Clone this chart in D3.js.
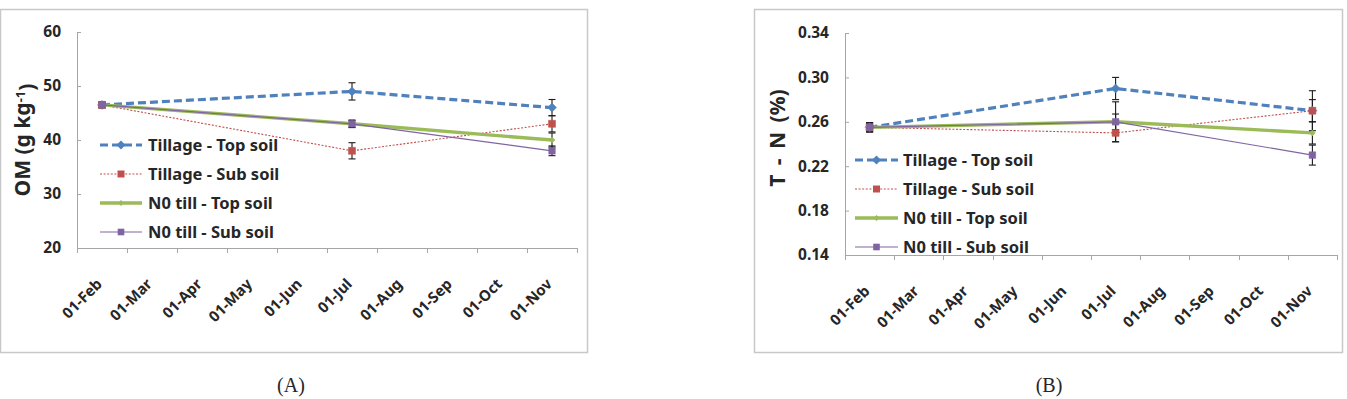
<!DOCTYPE html>
<html><head><meta charset="utf-8">
<script src="https://cdn.jsdelivr.net/npm/d3@7"></script>
<style>
html,body{margin:0;padding:0;background:#fff;}
svg{display:block;}
text{font-family:"Noto Sans",Arial,sans-serif;font-weight:bold;fill:#262626;}
</style></head>
<body>
<svg id="c" width="1347" height="399"></svg>
<script>
// ---------- data ----------
const months = ["01-Feb","01-Mar","01-Apr","01-May","01-Jun","01-Jul","01-Aug","01-Sep","01-Oct","01-Nov"];
const sampleMonths = ["01-Feb","01-Jul","01-Nov"];
const seriesNames = ["Tillage - Top soil","Tillage - Sub soil","N0 till - Top soil","N0 till - Sub soil"];

// Panel A: OM (g kg-1)
const omTillTop = [46.5, 49.0, 46.0];
const omTillTopErr = [0.5, 1.6, 1.5];
const omTillSub = [46.5, 38.0, 43.0];
const omTillSubErr = [0.5, 1.5, 1.5];
const omNoTop = [46.5, 43.0, 40.0];
const omNoTopErr = [0.5, 0.6, 1.3];
const omNoSub = [46.5, 43.0, 38.0];
const omNoSubErr = [0.5, 0.7, 0.9];
const omTicks = [20, 30, 40, 50, 60];

// Panel B: T-N (%)
const tnTillTop = [0.255, 0.290, 0.270];
const tnTillTopErr = [0.004, 0.010, 0.010];
const tnTillSub = [0.255, 0.250, 0.270];
const tnTillSubErr = [0.004, 0.008, 0.018];
const tnNoTop = [0.255, 0.260, 0.250];
const tnNoTopErr = [0.004, 0.018, 0.010];
const tnNoSub = [0.255, 0.260, 0.230];
const tnNoSubErr = [0.004, 0.007, 0.009];
const tnTicks = [0.14, 0.18, 0.22, 0.26, 0.30, 0.34];

// ---------- styles ----------
const styles = [
  {color:"#4F81BD", width:3.2, dash:"8,4", marker:"diamond", r:4.5},
  {color:"#C0504D", width:1.1, dash:"2,1.6", marker:"square", r:3.5},
  {color:"#9BBB59", width:3.4, dash:null, marker:"diamond", r:3},
  {color:"#8064A2", width:1.2, dash:null, marker:"square", r:3.3}
];

const panels = [
  {
    frame:{x:0.5,y:9.5,w:587,h:343},
    plot:{left:77,right:577,top:32,bottom:248},
    domain:[20,60], ticks:omTicks, fmt:d3.format("d"),
    series:[[omTillTop,omTillTopErr],[omTillSub,omTillSubErr],[omNoTop,omNoTopErr],[omNoSub,omNoSubErr]],
    legend:{x1:100,x2:142,tx:148,y0:145,dy:29},
    ytitle:{x:23,y:140}, caption:{x:291,y:385,t:"(A)"}, title:"OM"
  },
  {
    frame:{x:754.5,y:9.5,w:588,h:343},
    plot:{left:845,right:1337,top:33,bottom:255},
    domain:[0.14,0.34], ticks:tnTicks, fmt:d3.format(".2f"),
    series:[[tnTillTop,tnTillTopErr],[tnTillSub,tnTillSubErr],[tnNoTop,tnNoTopErr],[tnNoSub,tnNoSubErr]],
    legend:{x1:855,x2:898,tx:903,y0:160,dy:29},
    ytitle:{x:778,y:138}, caption:{x:1049,y:385,t:"(B)"}, title:"TN"
  }
];

const svg = d3.select("#c");
svg.append("rect").attr("width",1347).attr("height",399).attr("fill","#fff");

function markerPath(type, r){
  if(type==="diamond") return `M0,${-r}L${r},0L0,${r}L${-r},0Z`;
  return `M${-r},${-r}H${r}V${r}H${-r}Z`;
}

panels.forEach(p=>{
  const g = svg.append("g");
  g.append("rect").attr("x",p.frame.x).attr("y",p.frame.y).attr("width",p.frame.w).attr("height",p.frame.h)
    .attr("fill","none").attr("stroke","#c8c8c8").attr("stroke-width",1.5);

  const x = d3.scaleBand().domain(months).range([p.plot.left,p.plot.right]).paddingInner(0).paddingOuter(0);
  const y = d3.scaleLinear().domain(p.domain).range([p.plot.bottom,p.plot.top]);
  const cx = m => x(m) + x.bandwidth()/2;

  // y axis
  const ya = g.append("g").attr("transform",`translate(${p.plot.left},0)`)
    .call(d3.axisLeft(y).tickValues(p.ticks).tickFormat(p.fmt).tickSizeInner(-4).tickSizeOuter(0).tickPadding(16));
  ya.select(".domain").attr("stroke","#a6a6a6");
  ya.selectAll(".tick line").attr("stroke","#a6a6a6");
  ya.selectAll(".tick text").style("font-size","15.5px").style("font-family","'Noto Sans',Arial,sans-serif").style("font-weight","bold").attr("fill","#262626");

  // x axis (ticks at month boundaries, labels centered)
  const xa = g.append("g");
  xa.append("line").attr("x1",p.plot.left).attr("x2",p.plot.right).attr("y1",p.plot.bottom+0.5).attr("y2",p.plot.bottom+0.5).attr("stroke","#a6a6a6");
  const bounds = months.map(m=>x(m)).concat([x.range()[1]]);
  xa.selectAll("line.tk").data(bounds).join("line").attr("class","tk")
    .attr("x1",d=>Math.round(d)+0.5).attr("x2",d=>Math.round(d)+0.5)
    .attr("y1",p.plot.bottom).attr("y2",p.plot.bottom+5).attr("stroke","#a6a6a6");
  xa.selectAll("text").data(months).join("text")
    .attr("transform",m=>`translate(${cx(m)+1},${p.plot.bottom+37}) rotate(-45)`)
    .attr("text-anchor","end").style("font-size","15px").text(m=>m);

  // series lines
  p.series.forEach((s,i)=>{
    const st = styles[i];
    const vals = s[0], errs = s[1];
    const pts = sampleMonths.map((m,j)=>({m, v:vals[j], e:errs[j]}));
    const line = d3.line().x(d=>cx(d.m)).y(d=>y(d.v));
    g.append("path").datum(pts).attr("d",line).attr("fill","none")
      .attr("stroke",st.color).attr("stroke-width",st.width)
      .attr("stroke-dasharray",st.dash);
  });
  // error bars
  p.series.forEach((s,i)=>{
    const vals = s[0], errs = s[1];
    const pts = sampleMonths.map((m,j)=>({m, v:vals[j], e:errs[j]}));
    const eg = g.append("g").attr("stroke","#1a1a1a").attr("stroke-width",1.1);
    pts.forEach(d=>{
      const xx = cx(d.m);
      eg.append("line").attr("x1",xx).attr("x2",xx).attr("y1",y(d.v-d.e)).attr("y2",y(d.v+d.e));
      eg.append("line").attr("x1",xx-3.5).attr("x2",xx+3.5).attr("y1",y(d.v-d.e)).attr("y2",y(d.v-d.e));
      eg.append("line").attr("x1",xx-3.5).attr("x2",xx+3.5).attr("y1",y(d.v+d.e)).attr("y2",y(d.v+d.e));
    });
  });
  // markers
  p.series.forEach((s,i)=>{
    const st = styles[i];
    const vals = s[0];
    const pts = sampleMonths.map((m,j)=>({m, v:vals[j]}));
    g.selectAll(null).data(pts).join("path")
      .attr("d",markerPath(st.marker,st.r))
      .attr("transform",d=>`translate(${cx(d.m)},${y(d.v)})`)
      .attr("fill",st.color).attr("stroke",st.color).attr("stroke-width",0.5);
  });

  // legend
  seriesNames.forEach((n,i)=>{
    const st = styles[i];
    const ly = p.legend.y0 + i*p.legend.dy;
    g.append("line").attr("x1",p.legend.x1).attr("x2",p.legend.x2).attr("y1",ly).attr("y2",ly)
      .attr("stroke",st.color).attr("stroke-width",st.width).attr("stroke-dasharray",st.dash);
    g.append("path").attr("d",markerPath(st.marker,st.r))
      .attr("transform",`translate(${(p.legend.x1+p.legend.x2)/2},${ly})`).attr("fill",st.color);
    g.append("text").attr("x",p.legend.tx).attr("y",ly).attr("dy","0.35em")
      .style("font-size","16.5px").text(n);
  });

  // y title
  const yt = g.append("text").attr("transform",`translate(${p.ytitle.x},${p.ytitle.y}) rotate(-90)`)
    .attr("text-anchor","middle").attr("dy","0.35em").style("font-size","21px");
  if(p.title==="OM"){
    yt.append("tspan").text("OM (g kg");
    yt.append("tspan").attr("dy","-0.45em").style("font-size","13px").text("-1");
    yt.append("tspan").attr("dy","0.45em").text(")");
  } else {
    yt.style("word-spacing","4px").text("T - N (%)");
  }

  // caption
  g.append("text").attr("x",p.caption.x).attr("y",p.caption.y).attr("dy","0.35em").attr("text-anchor","middle")
    .style("font-family","'Liberation Serif','Times New Roman',serif").style("font-weight","normal")
    .style("font-size","20px").attr("fill","#000").text(p.caption.t);
});
</script>
</body></html>
